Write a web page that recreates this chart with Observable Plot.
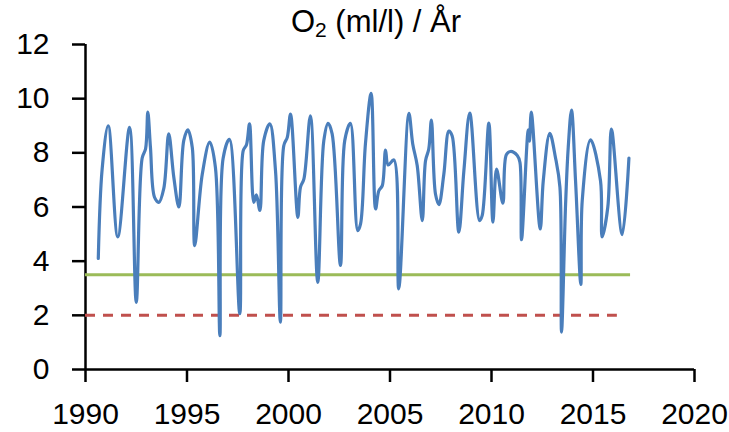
<!DOCTYPE html>
<html>
<head>
<meta charset="utf-8">
<script src="https://cdn.jsdelivr.net/npm/d3@7"></script>
<script src="https://cdn.jsdelivr.net/npm/@observablehq/plot@0.6"></script>
<style>
  html, body { margin: 0; padding: 0; background: #fff; }
  #wrap { position: relative; width: 729px; height: 432px; }
  #title { position: absolute; top: 3px; left: 0; width: 752px; text-align: center;
           font-family: "Liberation Sans", sans-serif; font-size: 31px; color: #000; line-height: 38px; }
  #title sub { font-size: 21px; vertical-align: -5px; line-height: 0; }
</style>
</head>
<body>
<div id="wrap"><div id="title">O<sub>2</sub> (ml/l) / År</div></div>
<script>
const years = [1990.63,1990.82,1991.12,1991.59,1992.17,1992.5,1992.79,1992.96,1993.07,1993.2,1993.4,1993.61,1993.86,1994.1,1994.35,1994.6,1994.84,1995.04,1995.26,1995.38,1995.75,1996.12,1996.4,1996.62,1996.78,1997.09,1997.6,1997.77,1997.93,1998.08,1998.29,1998.42,1998.59,1998.78,1999.08,1999.36,1999.6,1999.77,1999.94,2000.1,2000.46,2000.59,2000.76,2001.08,2001.44,2001.74,2001.95,2002.15,2002.56,2002.77,2003.05,2003.41,2003.55,2003.79,2004.07,2004.29,2004.45,2004.62,2004.78,2004.91,2005.19,2005.43,2005.93,2006.12,2006.34,2006.59,2006.75,2006.91,2007.04,2007.24,2007.41,2007.65,2007.9,2008.06,2008.39,2008.64,2008.93,2009.41,2009.54,2009.87,2010.07,2010.25,2010.56,2010.73,2010.94,2011.27,2011.4,2011.48,2011.81,2011.87,2011.96,2012.4,2012.55,2012.87,2013.15,2013.37,2013.45,2013.65,2013.78,2013.94,2014.14,2014.4,2014.47,2014.88,2015.37,2015.45,2015.73,2015.9,2015.95,2016.44,2016.77];
const o2 = [4.1,7.4,9.0,4.9,8.94,2.48,7.8,8.15,9.5,8.2,6.36,6.17,6.7,8.7,7.1,6.0,8.45,8.85,8.2,4.57,7.2,8.4,7.46,1.25,7.8,8.5,2.06,8.08,8.3,9.07,6.17,6.45,5.87,8.45,9.07,7.34,1.75,8.27,8.57,9.43,5.62,6.73,7.04,9.37,3.22,8.45,9.09,8.7,3.84,8.45,9.09,5.13,5.38,8.33,10.2,5.93,6.6,6.79,8.1,7.55,7.74,2.98,9.46,8.33,7.53,5.5,7.71,8.14,9.21,6.48,6.09,7.2,8.8,8.63,5.07,7.34,9.47,5.5,5.68,9.1,5.44,7.4,6.14,7.93,8.05,7.9,7.65,4.79,8.85,8.43,9.5,5.19,6.97,8.72,7.83,6.73,1.38,6.11,8.2,9.58,6.97,3.14,6.24,8.48,6.97,4.9,6.0,8.88,8.76,4.98,7.81];

const refLevels = [3.5, 2];
const refStart = [1990, 1990];
const refEnd = [2016.85, 2016.2];
const refColors = ["#9bbb59", "#c0504d"];
const refDash = [null, "10,8"];

const xTicks = [1990, 1995, 2000, 2005, 2010, 2015, 2020];
const yTicks = [0, 2, 4, 6, 8, 10, 12];

const series = years.map((y, i) => ({year: y, value: o2[i]}));
const refs = refLevels.map((v, i) => ({level: v, x1: refStart[i], x2: refEnd[i], color: refColors[i], dash: refDash[i]}));

const font = '"Liberation Sans", sans-serif';

const chart = Plot.plot({
  width: 729,
  height: 432,
  marginLeft: 85,
  marginRight: 35,
  marginTop: 44,
  marginBottom: 63,
  style: {fontFamily: font, fontSize: "30px", color: "#000", background: "#fff"},
  x: {domain: [1990, 2020]},
  y: {domain: [0, 12]},
  marks: [
    Plot.axisX({ticks: xTicks, tickFormat: d => String(d), tickSize: 13, tickPadding: 20, strokeWidth: 2.5, fontSize: 30, label: null, stroke: "#000", color: "#000"}),
    Plot.axisY({ticks: yTicks, tickFormat: d => String(d), tickSize: 13, tickPadding: 23, strokeWidth: 2.5, fontSize: 30, label: null, stroke: "#000"}),
    Plot.ruleY([0], {x1: 1990, x2: 2020, stroke: "#000", strokeWidth: 2.5}),
    Plot.ruleX([1990], {y1: 0, y2: 12, stroke: "#000", strokeWidth: 2.5}),
    Plot.ruleY(refs.filter(d => !d.dash), {y: "level", x1: "x1", x2: "x2", stroke: "color", strokeWidth: 3}),
    Plot.ruleY(refs.filter(d => d.dash), {y: "level", x1: "x1", x2: "x2", stroke: "color", strokeWidth: 3, strokeDasharray: "10,8"}),
    Plot.line(series, {x: "year", y: "value", stroke: "#4a7ebb", strokeWidth: 3.2, curve: "catmull-rom"})
  ]
});
document.getElementById("wrap").appendChild(chart);
</script>
</body>
</html>
